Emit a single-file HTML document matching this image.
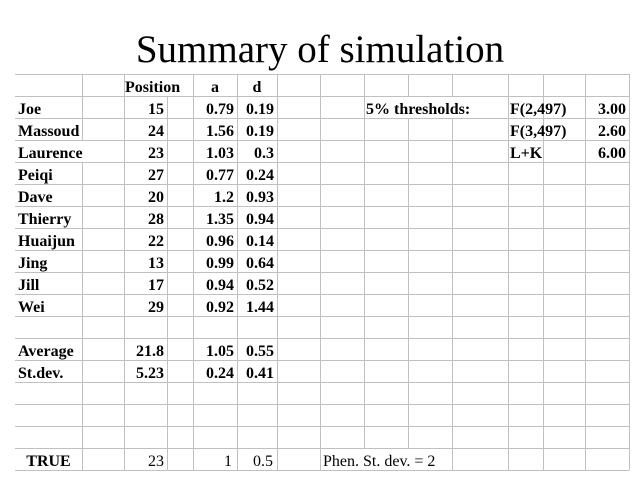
<!DOCTYPE html>
<html>
<head>
<meta charset="utf-8">
<style>
html,body{margin:0;padding:0;background:#fff;}
svg{display:block;font-family:"Liberation Serif",serif;}
</style>
</head>
<body>
<svg width="640" height="480" viewBox="0 0 640 480" xmlns="http://www.w3.org/2000/svg" font-family="Liberation Serif, serif">
<rect width="640" height="480" fill="#fff"/>
<text x="320" y="62" text-anchor="middle" font-size="39" font-family="Liberation Serif, serif" fill="#000">Summary of simulation</text>
<g stroke="#c0c0c0" stroke-width="1" shape-rendering="crispEdges">
<line x1="15" y1="74.5" x2="629" y2="74.5"/>
<line x1="15" y1="96.5" x2="629" y2="96.5"/>
<line x1="15" y1="118.5" x2="629" y2="118.5"/>
<line x1="15" y1="140.5" x2="629" y2="140.5"/>
<line x1="15" y1="162.5" x2="629" y2="162.5"/>
<line x1="15" y1="184.5" x2="629" y2="184.5"/>
<line x1="15" y1="206.5" x2="629" y2="206.5"/>
<line x1="15" y1="228.5" x2="629" y2="228.5"/>
<line x1="15" y1="250.5" x2="629" y2="250.5"/>
<line x1="15" y1="272.5" x2="629" y2="272.5"/>
<line x1="15" y1="294.5" x2="629" y2="294.5"/>
<line x1="15" y1="316.5" x2="629" y2="316.5"/>
<line x1="15" y1="338.5" x2="629" y2="338.5"/>
<line x1="15" y1="360.5" x2="629" y2="360.5"/>
<line x1="15" y1="382.5" x2="629" y2="382.5"/>
<line x1="15" y1="404.5" x2="629" y2="404.5"/>
<line x1="15" y1="426.5" x2="629" y2="426.5"/>
<line x1="15" y1="448.5" x2="629" y2="448.5"/>
<line x1="15" y1="470.5" x2="629" y2="470.5"/>
<line x1="82.5" y1="74" x2="82.5" y2="140"/>
<line x1="82.5" y1="162" x2="82.5" y2="470"/>
<line x1="124.5" y1="74" x2="124.5" y2="470"/>
<line x1="167.5" y1="96" x2="167.5" y2="470"/>
<line x1="193.5" y1="74" x2="193.5" y2="470"/>
<line x1="237.5" y1="74" x2="237.5" y2="470"/>
<line x1="277.5" y1="74" x2="277.5" y2="470"/>
<line x1="320.5" y1="74" x2="320.5" y2="470"/>
<line x1="364.5" y1="74" x2="364.5" y2="448"/>
<line x1="408.5" y1="74" x2="408.5" y2="96"/>
<line x1="408.5" y1="118" x2="408.5" y2="448"/>
<line x1="452.5" y1="74" x2="452.5" y2="96"/>
<line x1="452.5" y1="118" x2="452.5" y2="470"/>
<line x1="508.5" y1="74" x2="508.5" y2="470"/>
<line x1="543.5" y1="74" x2="543.5" y2="470"/>
<line x1="585.5" y1="74" x2="585.5" y2="470"/>
<line x1="629.5" y1="74" x2="629.5" y2="470"/>
</g>

<g font-family="Liberation Serif, serif" font-size="16" font-weight="bold" fill="#000">
<text x="125" y="92">Position</text>
<text x="215" y="92" text-anchor="middle">a</text>
<text x="257" y="92" text-anchor="middle">d</text>

<text x="18" y="114">Joe</text>
<text x="18" y="136">Massoud</text>
<text x="18" y="158">Laurence</text>
<text x="18" y="180">Peiqi</text>
<text x="18" y="202">Dave</text>
<text x="18" y="224">Thierry</text>
<text x="18" y="246">Huaijun</text>
<text x="18" y="268">Jing</text>
<text x="18" y="290">Jill</text>
<text x="18" y="312">Wei</text>
<text x="18" y="356">Average</text>
<text x="18" y="378">St.dev.</text>

<text x="366" y="114">5% thresholds:</text>
<text x="510" y="114">F(2,497)</text>
<text x="510" y="136">F(3,497)</text>
<text x="510" y="158">L+K</text>

<text x="48.5" y="466" text-anchor="middle">TRUE</text>

<g text-anchor="end">
<text x="164" y="114">15</text>
<text x="164" y="136">24</text>
<text x="164" y="158">23</text>
<text x="164" y="180">27</text>
<text x="164" y="202">20</text>
<text x="164" y="224">28</text>
<text x="164" y="246">22</text>
<text x="164" y="268">13</text>
<text x="164" y="290">17</text>
<text x="164" y="312">29</text>
<text x="164" y="356">21.8</text>
<text x="164" y="378">5.23</text>

<text x="234" y="114">0.79</text>
<text x="234" y="136">1.56</text>
<text x="234" y="158">1.03</text>
<text x="234" y="180">0.77</text>
<text x="234" y="202">1.2</text>
<text x="234" y="224">1.35</text>
<text x="234" y="246">0.96</text>
<text x="234" y="268">0.99</text>
<text x="234" y="290">0.94</text>
<text x="234" y="312">0.92</text>
<text x="234" y="356">1.05</text>
<text x="234" y="378">0.24</text>

<text x="274" y="114">0.19</text>
<text x="274" y="136">0.19</text>
<text x="274" y="158">0.3</text>
<text x="274" y="180">0.24</text>
<text x="274" y="202">0.93</text>
<text x="274" y="224">0.94</text>
<text x="274" y="246">0.14</text>
<text x="274" y="268">0.64</text>
<text x="274" y="290">0.52</text>
<text x="274" y="312">1.44</text>
<text x="274" y="356">0.55</text>
<text x="274" y="378">0.41</text>

<text x="626" y="114">3.00</text>
<text x="626" y="136">2.60</text>
<text x="626" y="158">6.00</text>
</g>
</g>

<g font-family="Liberation Serif, serif" font-size="16" font-weight="normal" fill="#000">
<text x="164" y="466" text-anchor="end">23</text>
<text x="232" y="466" text-anchor="end">1</text>
<text x="273" y="466" text-anchor="end">0.5</text>
<text x="323" y="466">Phen. St. dev. = 2</text>
</g>
</svg>
</body>
</html>
